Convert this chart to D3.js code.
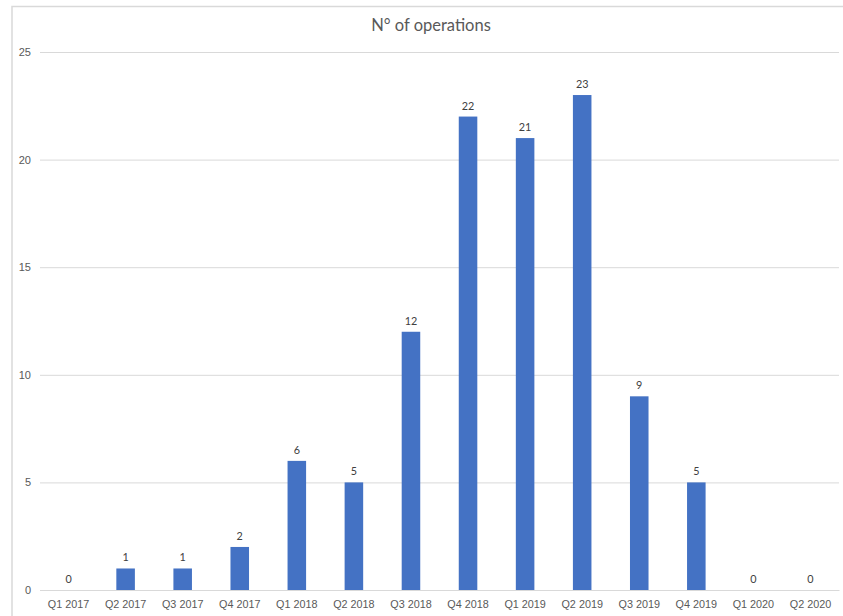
<!DOCTYPE html>
<html>
<head>
<meta charset="utf-8">
<script src="https://cdn.jsdelivr.net/npm/d3@7"></script>
<style>
  html, body { margin: 0; padding: 0; background: #fff; }
  svg { display: block; font-family: Lato, "Open Sans", sans-serif; }
</style>
</head>
<body>
<svg id="chart" width="843" height="616"></svg>
<script>
// Quarterly number of operations
const quarters = ["Q1 2017", "Q2 2017", "Q3 2017", "Q4 2017", "Q1 2018", "Q2 2018", "Q3 2018",
                  "Q4 2018", "Q1 2019", "Q2 2019", "Q3 2019", "Q4 2019", "Q1 2020", "Q2 2020"];
const operations = [0, 1, 1, 2, 6, 5, 12, 22, 21, 23, 9, 5, 0, 0];
const yTicks = [0, 5, 10, 15, 20, 25];
const chartTitle = "N° of operations";

const svg = d3.select("#chart");
const W = 843, H = 616;
const plot = { left: 40, right: 839, top: 52, bottom: 590 };

// outer chart frame
svg.append("rect")
  .attr("x", 12).attr("y", 6.5)
  .attr("width", W).attr("height", H)
  .attr("fill", "#fff")
  .attr("stroke", "#d9d9d9").attr("stroke-width", 1.5);

const x = d3.scaleBand()
  .domain(quarters)
  .range([plot.left, plot.right])
  .paddingInner(0.675)
  .paddingOuter(0.3375);

const y = d3.scaleLinear()
  .domain([0, 25])
  .range([plot.bottom, plot.top]);

// horizontal gridlines + y labels
const yAxis = d3.axisLeft(y)
  .tickValues(yTicks)
  .tickSize(-(plot.right - plot.left))
  .tickPadding(9)
  .tickFormat(d3.format("d"));

const gy = svg.append("g")
  .attr("transform", `translate(${plot.left},0)`)
  .call(yAxis);
gy.select(".domain").remove();
gy.selectAll(".tick line").attr("stroke", "#d9d9d9").attr("stroke-width", 1);
gy.selectAll(".tick text").attr("fill", "#595959").attr("font-size", 11);

// category axis
const xAxis = d3.axisBottom(x).tickSize(0).tickPadding(10);
const gx = svg.append("g")
  .attr("transform", `translate(0,${plot.bottom})`)
  .call(xAxis);
gx.select(".domain").attr("stroke", "#d9d9d9").attr("stroke-width", 1);
gx.selectAll(".tick text").attr("fill", "#595959").attr("font-size", 10.8);

// bars
svg.append("g").selectAll("rect")
  .data(operations)
  .join("rect")
  .attr("x", (d, i) => x(quarters[i]))
  .attr("y", d => y(d))
  .attr("width", x.bandwidth())
  .attr("height", d => y(0) - y(d))
  .attr("fill", "#4472C4");

// value labels
svg.append("g").selectAll("text")
  .data(operations)
  .join("text")
  .attr("x", (d, i) => x(quarters[i]) + x.bandwidth() / 2)
  .attr("y", d => y(d) - 7)
  .attr("text-anchor", "middle")
  .attr("fill", "#404040")
  .attr("font-size", 10.8)
  .text(d => d);

// title
svg.append("text")
  .attr("x", 431)
  .attr("y", 31)
  .attr("text-anchor", "middle")
  .attr("fill", "#595959")
  .attr("font-size", 16.5)
  .text(chartTitle);
</script>
</body>
</html>
